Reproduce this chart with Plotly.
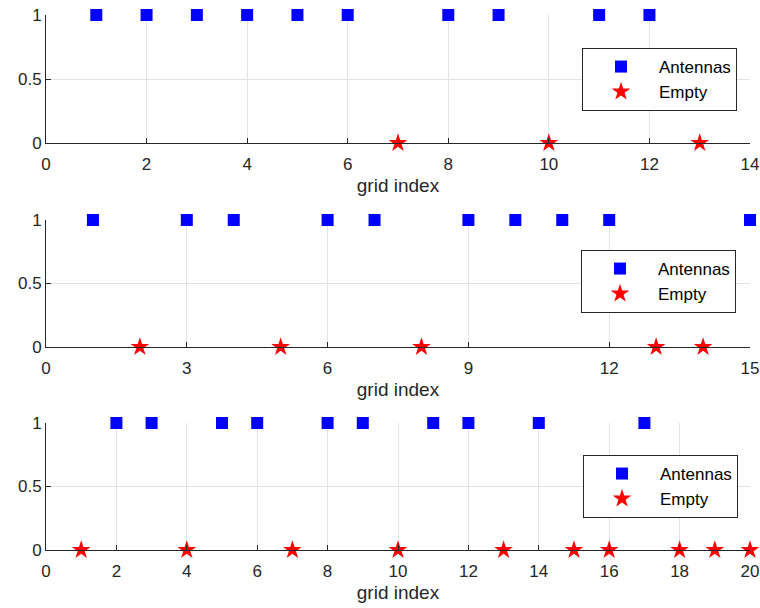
import plotly.graph_objects as go

# Data
ant1 = [1, 2, 3, 4, 5, 6, 8, 9, 11, 12]
emp1 = [7, 10, 13]
ant2 = [1, 3, 4, 6, 7, 9, 10, 11, 12, 15]
emp2 = [2, 5, 8, 13, 14]
ant3 = [2, 3, 5, 6, 8, 9, 11, 12, 14, 17]
emp3 = [1, 4, 7, 10, 13, 15, 16, 18, 19, 20]
xmax = [14, 15, 20]
xticks = [list(range(0, 15, 2)), list(range(0, 16, 3)), list(range(0, 21, 2))]
yticks = [0, 0.5, 1]
ytick_text = ["0", "0.5", "1"]
xlabel = "grid index"

FONT = "Liberation Sans, Arial, Helvetica, sans-serif"
AX = "#262626"
GRID = "#e3e3e3"
W, H = 760, 608

# panel geometry in px (top, bottom)
panels = [(15, 143), (220, 347), (423, 550)]
legend_boxes = [(737, 48), (736, 250), (738, 455)]
x0px, x1px = 46, 750

fig = go.Figure()
sets = [(ant1, emp1), (ant2, emp2), (ant3, emp3)]
for i, (a, e) in enumerate(sets):
    n = i + 1
    xa = "x" if n == 1 else f"x{n}"
    ya = "y" if n == 1 else f"y{n}"
    lg = "legend" if n == 1 else f"legend{n}"
    fig.add_trace(go.Scatter(x=a, y=[1] * len(a), mode="markers", name="Antennas",
                             marker=dict(symbol="square", size=12, color="#0000ff"),
                             xaxis=xa, yaxis=ya, legend=lg, cliponaxis=False))
    fig.add_trace(go.Scatter(x=e, y=[0] * len(e), mode="markers", name="Empty",
                             marker=dict(symbol="star", size=14, color="#ff0000"),
                             xaxis=xa, yaxis=ya, legend=lg, cliponaxis=False))

layout = dict(width=W, height=H, margin=dict(l=0, r=0, t=0, b=0, autoexpand=False),
              paper_bgcolor="white", plot_bgcolor="white",
              font=dict(family=FONT, size=16, color=AX))
for i in range(3):
    n = i + 1
    top, bot = panels[i]
    xk = "xaxis" if n == 1 else f"xaxis{n}"
    yk = "yaxis" if n == 1 else f"yaxis{n}"
    ya = "y" if n == 1 else f"y{n}"
    xa = "x" if n == 1 else f"x{n}"
    layout[xk] = dict(domain=[x0px / W, x1px / W], anchor=ya, range=[0, xmax[i]],
                      tickmode="array", tickvals=xticks[i],
                      ticks="inside", ticklen=5, tickcolor=AX, tickwidth=1,
                      showline=True, linecolor=AX, linewidth=1,
                      showgrid=True, gridcolor=GRID, zeroline=False,
                      automargin=False, ticklabelstandoff=6,
                      tickfont=dict(size=17, color=AX),
                      title=dict(text=xlabel, font=dict(size=19, color=AX), standoff=5))
    layout[yk] = dict(domain=[1 - bot / H, 1 - top / H], anchor=xa, range=[0, 1],
                      tickmode="array", tickvals=yticks, ticktext=ytick_text,
                      ticks="inside", ticklen=5, tickcolor=AX, tickwidth=1,
                      showline=True, linecolor=AX, linewidth=1,
                      showgrid=True, gridcolor=GRID, zeroline=False,
                      automargin=False,
                      tickfont=dict(size=17, color=AX))
    lk = "legend" if n == 1 else f"legend{n}"
    rx, ty = legend_boxes[i]
    layout[lk] = dict(x=rx / W, y=1 - ty / H, xanchor="right", yanchor="top",
                      xref="paper", yref="paper",
                      bgcolor="white", bordercolor=AX, borderwidth=1,
                      font=dict(size=17, color="#000000"), itemwidth=66,
                      tracegroupgap=0)

fig.update_layout(**layout)
fig.write_html("out.html", config={"displayModeBar": False},
               post_script="document.body.style.margin='0';")
